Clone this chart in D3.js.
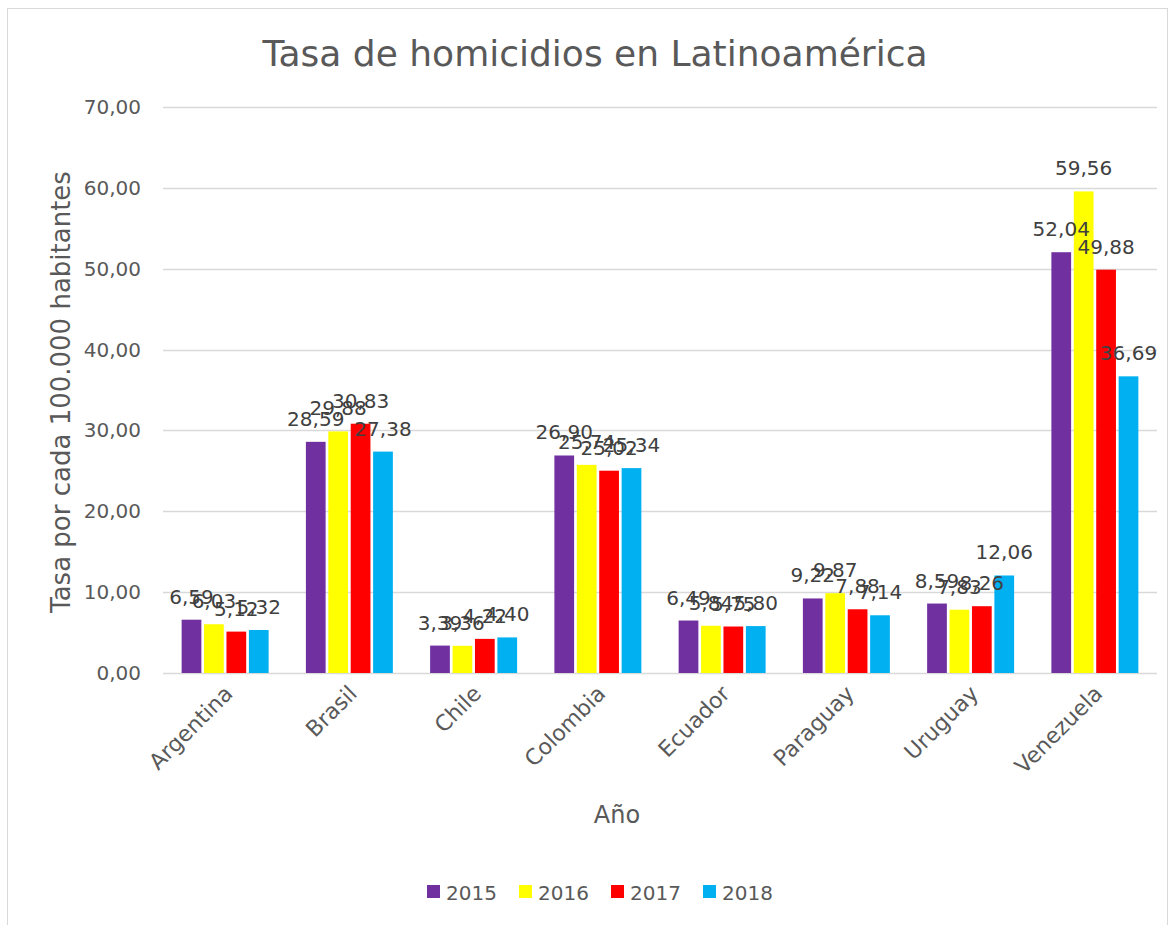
<!DOCTYPE html>
<html>
<head>
<meta charset="utf-8">
<script src="https://cdn.jsdelivr.net/npm/d3@7"></script>
<style>
  body { margin: 0; background: #fff; }
  svg text { font-family: "DejaVu Sans", sans-serif; }
</style>
</head>
<body>
<svg id="chart"></svg>
<script>
var paises = ["Argentina", "Brasil", "Chile", "Colombia", "Ecuador", "Paraguay", "Uruguay", "Venezuela"];
var anios = ["2015", "2016", "2017", "2018"];
var v2015 = [6.59, 28.59, 3.39, 26.90, 6.49, 9.22, 8.59, 52.04];
var v2016 = [6.03, 29.88, 3.36, 25.74, 5.84, 9.87, 7.83, 59.56];
var v2017 = [5.12, 30.83, 4.22, 25.02, 5.75, 7.88, 8.26, 49.88];
var v2018 = [5.32, 27.38, 4.40, 25.34, 5.80, 7.14, 12.06, 36.69];
var yTicks = [0, 10, 20, 30, 40, 50, 60, 70];
var colores = ["#7030a0", "#ffff00", "#ff0000", "#00b0f0"];

var series = [v2015, v2016, v2017, v2018];
var W = 1176, H = 925;
var fmt = function(d) { return d.toFixed(2).replace(".", ","); };

var svg = d3.select("#chart").attr("width", W).attr("height", H);

svg.append("rect")
    .attr("x", 7.5).attr("y", 8.5)
    .attr("width", 1160).attr("height", 930)
    .attr("fill", "#fff").attr("stroke", "#d9d9d9");

var x0 = d3.scaleBand().domain(paises).range([163, 1157]).paddingInner(0.3).paddingOuter(0.15);
var x1 = d3.scaleBand().domain(anios).range([0, x0.bandwidth()]).paddingInner(0.12);
var y = d3.scaleLinear().domain([0, 70]).range([673, 107]);

// grid
svg.append("g").selectAll("line")
    .data(yTicks)
    .enter().append("line")
    .attr("x1", 163).attr("x2", 1157)
    .attr("y1", function(d) { return Math.round(y(d)) + 0.5; })
    .attr("y2", function(d) { return Math.round(y(d)) + 0.5; })
    .attr("stroke", "#d9d9d9").attr("stroke-width", 1.5);

svg.append("g").selectAll("text")
    .data(yTicks)
    .enter().append("text")
    .attr("x", 141)
    .attr("y", function(d) { return y(d) + 7; })
    .attr("text-anchor", "end")
    .attr("fill", "#595959")
    .style("font-size", "20px")
    .text(fmt);

// bars
var grupos = svg.append("g").selectAll("g")
    .data(paises)
    .enter().append("g")
    .attr("transform", function(d) { return "translate(" + x0(d) + ",0)"; });

grupos.selectAll("rect")
    .data(function(p, i) { return anios.map(function(a, k) { return {anio: a, v: series[k][i], k: k}; }); })
    .enter().append("rect")
    .attr("x", function(d) { return x1(d.anio); })
    .attr("width", x1.bandwidth())
    .attr("y", function(d) { return y(d.v); })
    .attr("height", function(d) { return y(0) - y(d.v); })
    .attr("fill", function(d) { return colores[d.k]; });

grupos.selectAll("text")
    .data(function(p, i) { return anios.map(function(a, k) { return {anio: a, v: series[k][i], k: k}; }); })
    .enter().append("text")
    .attr("x", function(d) { return x1(d.anio) + x1.bandwidth() / 2; })
    .attr("y", function(d) { return y(d.v) - 16; })
    .attr("text-anchor", "middle")
    .attr("fill", "#404040")
    .style("font-size", "20px")
    .text(function(d) { return fmt(d.v); });

// x labels
svg.append("g").selectAll("text")
    .data(paises)
    .enter().append("text")
    .attr("transform", function(d) {
        return "translate(" + (x0(d) + x0.bandwidth() / 2 + 9) + ",695) rotate(-45)";
    })
    .attr("text-anchor", "end")
    .attr("fill", "#595959")
    .style("font-size", "22px")
    .text(function(d) { return d; });

// titles
svg.append("text")
    .attr("x", 595).attr("y", 66)
    .attr("text-anchor", "middle")
    .attr("fill", "#595959")
    .style("font-size", "36px")
    .text("Tasa de homicidios en Latinoamérica");

svg.append("text")
    .attr("transform", "translate(70,392) rotate(-90)")
    .attr("text-anchor", "middle")
    .attr("fill", "#595959")
    .style("font-size", "26px")
    .text("Tasa por cada 100.000 habitantes");

svg.append("text")
    .attr("x", 617).attr("y", 823)
    .attr("text-anchor", "middle")
    .attr("fill", "#595959")
    .style("font-size", "24px")
    .text("Año");

// legend
var ley = svg.append("g").selectAll("g")
    .data(anios)
    .enter().append("g")
    .attr("transform", function(d, i) { return "translate(" + (427 + i * 92) + ",885)"; });

ley.append("rect")
    .attr("width", 13).attr("height", 13)
    .attr("fill", function(d, i) { return colores[i]; });

ley.append("text")
    .attr("x", 19).attr("y", 15)
    .attr("fill", "#595959")
    .style("font-size", "20px")
    .text(function(d) { return d; });
</script>
</body>
</html>
